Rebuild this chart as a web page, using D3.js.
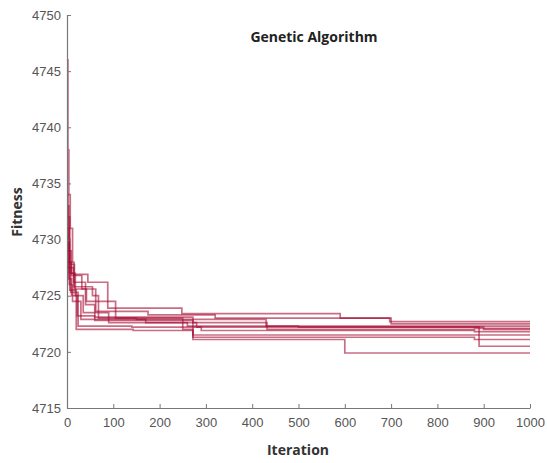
<!DOCTYPE html>
<html>
<head>
<meta charset="utf-8">
<script src="https://cdn.jsdelivr.net/npm/d3@7"></script>
<style>
  body { margin: 0; background: #fff; }
  svg text { font-family: "Liberation Sans", Arial, sans-serif; }
</style>
</head>
<body>
<div id="chart"></div>
<script>
// Chart size
const width = 547;
const height = 463;
const margin = { top: 15, right: 17, bottom: 55, left: 67 };

// Tick values
const xTicks = [0, 100, 200, 300, 400, 500, 600, 700, 800, 900, 1000];
const yTicks = [4715, 4720, 4725, 4730, 4735, 4740, 4745, 4750];

// Runs: step breakpoints [iteration, fitness]
const run1 = [[0, 4746], [2, 4738], [4, 4734], [7, 4731], [12, 4728], [15, 4726.9], [45, 4726.2], [88, 4723.9], [248, 4723.4], [590, 4723.0], [697, 4722.7], [1000, 4722.7]];
const run2 = [[0, 4734], [3, 4730], [6, 4728], [10, 4726.8], [32, 4725.6], [62, 4723.6], [175, 4723.3], [320, 4723.0], [700, 4722.5], [1000, 4722.5]];
const run3 = [[0, 4733], [4, 4729], [9, 4727], [15, 4725.8], [55, 4725.0], [68, 4723.0], [150, 4722.9], [430, 4722.3], [1000, 4722.3]];
const run4 = [[0, 4731], [5, 4727.5], [14, 4726.2], [40, 4724.2], [60, 4723.1], [272, 4722.6], [432, 4722.0], [880, 4722.1], [1000, 4722.1]];
const run5 = [[0, 4729], [5, 4726], [12, 4724.5], [30, 4722.9], [170, 4722.6], [280, 4722.2], [900, 4722.0], [1000, 4722.0]];
const run6 = [[0, 4730], [4, 4728], [8, 4725.3], [24, 4722.3], [140, 4722.2], [290, 4721.9], [880, 4721.8], [1000, 4721.8]];
const run7 = [[0, 4728], [3, 4726.5], [10, 4725], [22, 4723.2], [60, 4722.8], [272, 4721.5], [1000, 4721.5]];
const run8 = [[0, 4732], [6, 4727.8], [16, 4725.6], [42, 4724.5], [105, 4723.0], [250, 4722.0], [272, 4721.1], [600, 4719.9], [1000, 4719.9]];
const run9 = [[0, 4727.5], [6, 4725.5], [20, 4722.0], [143, 4721.9], [272, 4721.3], [880, 4721.1], [1000, 4721.1]];
const run10 = [[0, 4729.5], [5, 4727], [18, 4725], [35, 4723.5], [90, 4722.6], [260, 4722.3], [500, 4722.2], [890, 4720.5], [1000, 4720.5]];
const runs = [run1, run2, run3, run4, run5, run6, run7, run8, run9, run10];

const svg = d3.select("#chart")
  .append("svg")
  .attr("width", width)
  .attr("height", height);

const x = d3.scaleLinear().domain([0, 1000]).range([margin.left, width - margin.right]);
const y = d3.scaleLinear().domain([4715, 4750]).range([height - margin.bottom, margin.top]);

// Lines
const line = d3.line()
  .x(d => x(d[0]))
  .y(d => y(d[1]))
  .curve(d3.curveStepAfter);

svg.append("g")
  .selectAll("path")
  .data(runs)
  .join("path")
  .attr("d", line)
  .attr("fill", "none")
  .attr("stroke", "#a50c33")
  .attr("stroke-opacity", 0.6)
  .attr("stroke-width", 1.7);

// Axes (ticks inward, MATLAB style)
const fmt = d3.format("d");
const xAxis = svg.append("g")
  .attr("transform", `translate(0,${height - margin.bottom})`)
  .call(d3.axisBottom(x).tickValues(xTicks).tickFormat(fmt).tickSizeInner(-4).tickSizeOuter(0).tickPadding(10));

const yAxis = svg.append("g")
  .attr("transform", `translate(${margin.left},0)`)
  .call(d3.axisLeft(y).tickValues(yTicks).tickFormat(fmt).tickSizeInner(-4).tickSizeOuter(0).tickPadding(6));

[xAxis, yAxis].forEach(g => {
  g.select(".domain").attr("stroke", "#777").attr("stroke-width", 1.2);
  g.selectAll(".tick line").attr("stroke", "#777");
  g.selectAll(".tick text").attr("fill", "#555").attr("font-size", 13);
});

// Title and labels
svg.append("text")
  .attr("x", 314)
  .attr("y", 42)
  .attr("text-anchor", "middle")
  .attr("font-size", 14)
  .attr("font-weight", "bold")
  .attr("fill", "#222")
  .style("font-family", "'Open Sans', sans-serif")
  .text("Genetic Algorithm");

svg.append("text")
  .attr("x", 298)
  .attr("y", 455)
  .attr("text-anchor", "middle")
  .attr("font-size", 14)
  .attr("font-weight", "bold")
  .attr("fill", "#333")
  .style("font-family", "'Open Sans', sans-serif")
  .text("Iteration");

svg.append("text")
  .attr("transform", "translate(22,212) rotate(-90)")
  .attr("text-anchor", "middle")
  .attr("font-size", 14)
  .attr("font-weight", "bold")
  .attr("fill", "#333")
  .style("font-family", "'Open Sans', sans-serif")
  .text("Fitness");
</script>
</body>
</html>
